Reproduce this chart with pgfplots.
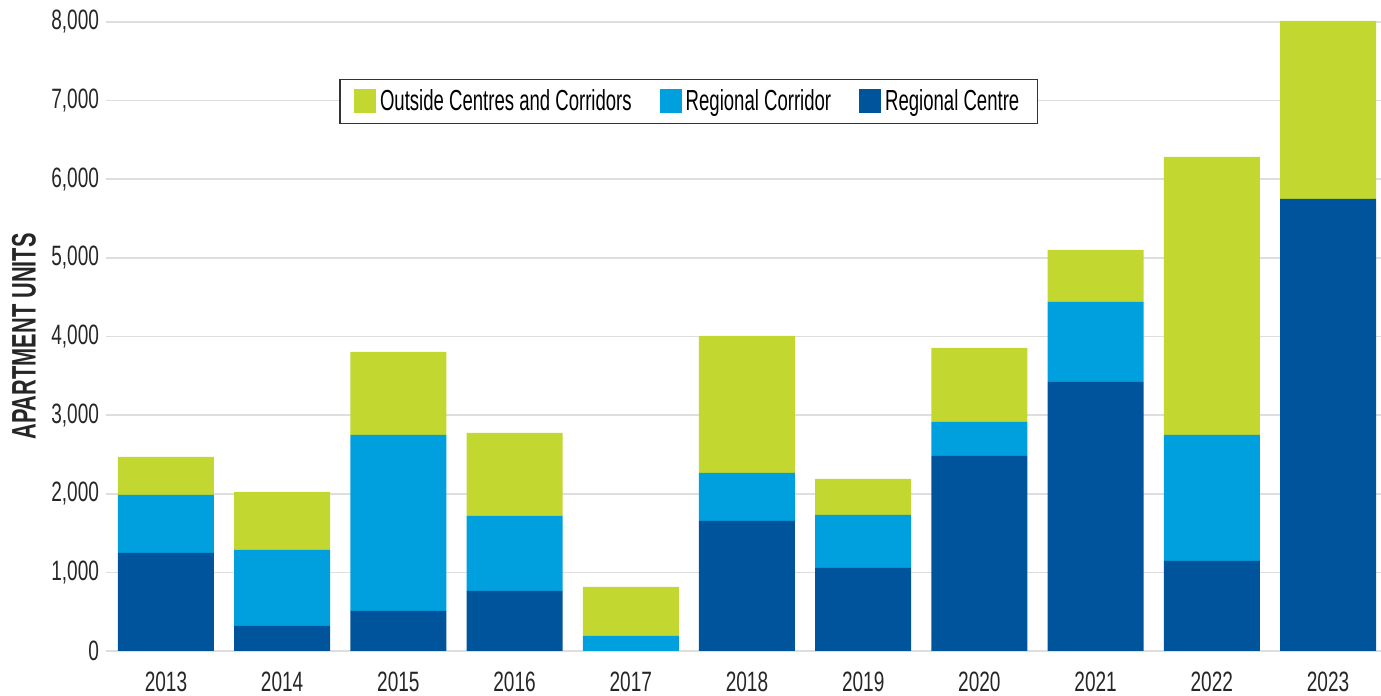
\documentclass[border=0pt]{standalone}
\usepackage{fontspec}
\setmainfont[FakeStretch=0.68]{Liberation Sans}
\newfontfamily\labfont[FakeStretch=0.64]{Liberation Sans}
\usepackage{pgfplots}
\pgfplotsset{compat=1.18}
\usetikzlibrary{calc}
\definecolor{cgreen}{RGB}{194,215,47}
\definecolor{clblue}{RGB}{0,160,222}
\definecolor{cdblue}{RGB}{0,84,155}
\definecolor{cgrid}{RGB}{222,222,222}
\begin{document}
\begin{tikzpicture}
\begin{axis}[
  scale only axis,
  width=637.5bp, height=314.5bp,
  ybar stacked,
  bar width=48bp,
  xmin=-0.516, xmax=10.456,
  ymin=0, ymax=8000,
  clip=false,
  xtick={0,1,2,3,4,5,6,7,8,9,10},
  xticklabels={2013,2014,2015,2016,2017,2018,2019,2020,2021,2022,2023},
  ytick={0,1000,2000,3000,4000,5000,6000,7000,8000},
  yticklabel style={/pgf/number format/.cd,1000 sep={,},assume math mode=true},
  scaled y ticks=false,
  ticklabel style={font=\fontsize{14bp}{16bp}\selectfont, text=black!85},
  xticklabel style={yshift=-7bp},
  major tick length=0pt,
  axis line style={draw=none},
  ymajorgrids,
  grid style={cgrid, line width=0.8pt},
  ylabel={\labfont\bfseries APARTMENT UNITS},
  every axis y label/.style={at={(rel axis cs:0,0.5)}, xshift=-41bp, rotate=90, anchor=center,
    font=\fontsize{17bp}{19bp}\selectfont, text=black!85},
  legend columns=3,
  reverse legend,
  legend style={
    at={(rel axis cs:0.457,0.874)}, anchor=center,
    draw=black!80, line width=0.7pt,
    font=\labfont\fontsize{14.5bp}{16bp}\selectfont,
    inner xsep=7bp, inner ysep=3bp,
    /tikz/every even column/.append style={column sep=12bp},
    nodes={inner sep=2bp},
    cells={anchor=west},
  },
  legend image code/.code={\fill[#1] (0bp,-6bp) rectangle (11bp,6bp);},
]
\addplot[fill=cdblue, draw=none] coordinates {(0,1247) (1,318) (2,509) (3,763) (4,0) (5,1654) (6,1056) (7,2481) (8,3422) (9,1145) (10,5751)};
\addlegendentry{Regional Centre}
\addplot[fill=clblue, draw=none] coordinates {(0,738) (1,967) (2,2239) (3,955) (4,191) (5,611) (6,674) (7,432) (8,1018) (9,1603) (10,0)};
\addlegendentry{Regional Corridor}
\addplot[fill=cgreen, draw=none] coordinates {(0,483) (1,738) (2,1056) (3,1056) (4,623) (5,1743) (6,458) (7,942) (8,662) (9,3537) (10,2264)};
\addlegendentry{Outside Centres and Corridors}
\end{axis}
\pgfresetboundingbox
\path ($(current axis.south west)+(-53bp,-22.5bp)$) rectangle ($(current axis.north east)+(0bp,11bp)$);
\end{tikzpicture}
\end{document}
